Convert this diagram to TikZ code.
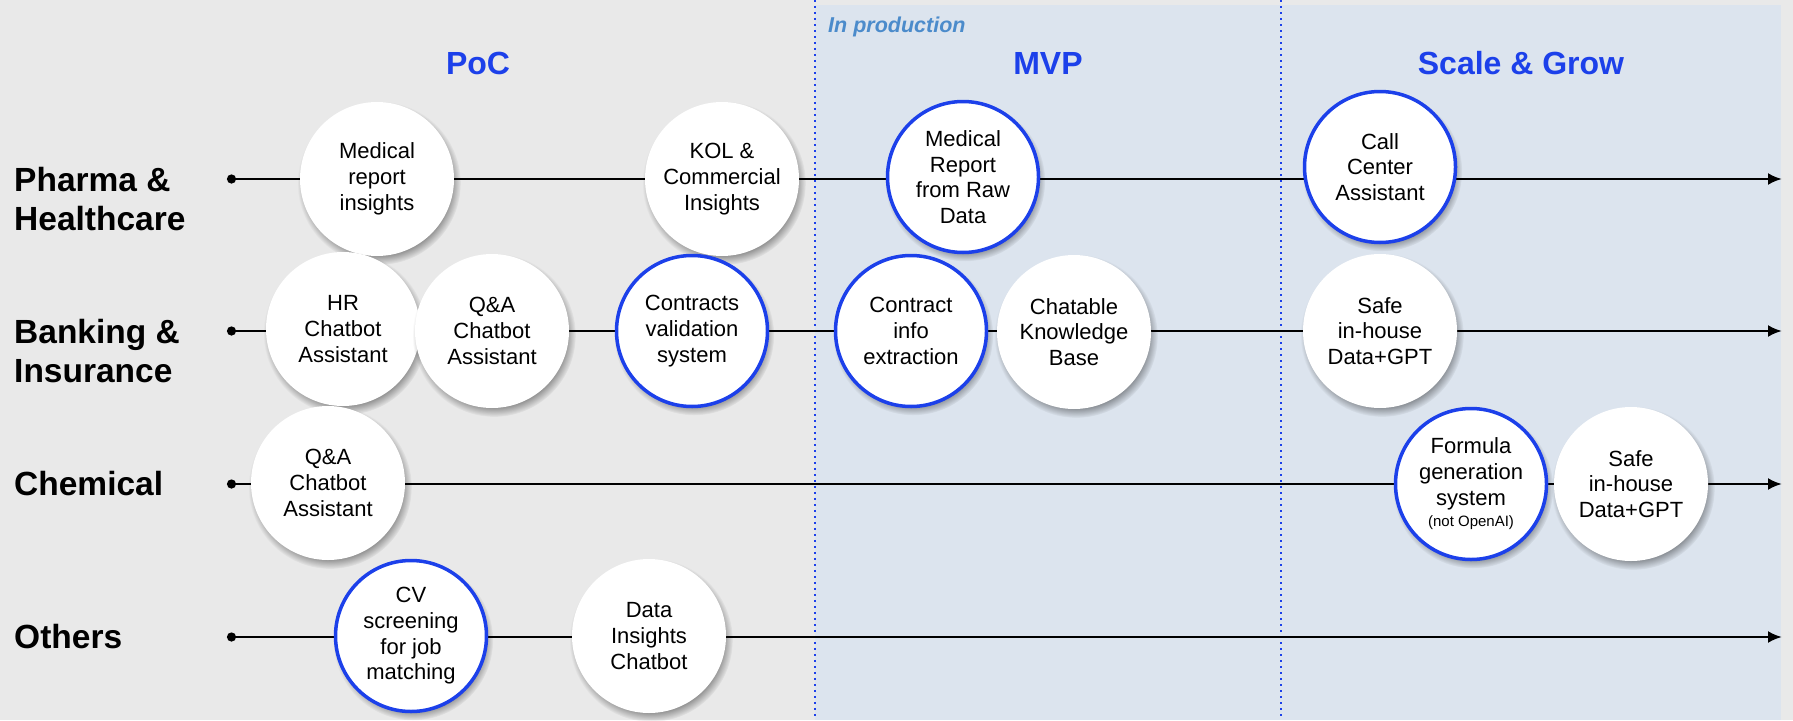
\documentclass[tikz,border=0pt]{standalone}
\usepackage{fontspec}
\setmainfont{Liberation Sans}
\usetikzlibrary{shadows,arrows.meta}
\definecolor{bggray}{HTML}{E9E9E9}
\definecolor{prodbg}{HTML}{DCE4EE}
\definecolor{vivid}{HTML}{1C40EA}
\definecolor{prodtxt}{HTML}{4B8BCB}
\begin{document}
\begin{tikzpicture}[x=1pt,y=-1pt,
  usecase/.style={circle, fill=white, minimum size=154pt, inner sep=0pt, align=center,
    font=\fontsize{22}{25.7}\selectfont,
    circular drop shadow={shadow xshift=2pt, shadow yshift=-4pt, shadow scale=1.06, opacity=0.45, fill=black}},
  live/.style={usecase, draw=vivid, line width=3.5pt, minimum size=151pt},
  phase/.style={font=\fontsize{32}{38}\selectfont\bfseries, text=vivid},
  rowlabel/.style={anchor=west, align=left, font=\fontsize{33.5}{39}\selectfont\bfseries, inner sep=0pt},
  rowline/.style={line width=2.6pt, {Circle[length=9pt]}-{Latex[length=14pt,width=12pt]}},
  divider/.style={vivid, line width=1.3pt, dash pattern=on 1.5pt off 4.5pt}
]
\useasboundingbox (0,0) rectangle (1793,720);
\fill[bggray] (0,0) rectangle (1793,720);
\fill[prodbg] (815,5) rectangle (1781,720);
\coordinate (d1t) at (815,0); \coordinate (d1b) at (815,720);
\coordinate (d2t) at (1281,0); \coordinate (d2b) at (1281,720);
\draw[divider] (d1t) -- (d1b);
\draw[divider] (d2t) -- (d2b);

\node[anchor=west, font=\fontsize{21.5}{24}\selectfont\bfseries\itshape, text=prodtxt, inner sep=0pt] (prod) at (828,27) {In production};
\node[phase] (poc) at (478,63) {PoC};
\node[phase] (mvp) at (1048,63) {MVP};
\node[phase] (scale) at (1521,63) {Scale \& Grow};

\node[rowlabel] (lab1) at (14,199) {Pharma \&\\Healthcare};
\node[rowlabel] (lab2) at (14,351) {Banking \&\\Insurance};
\node[rowlabel] (lab3) at (14,484) {Chemical};
\node[rowlabel] (lab4) at (14,637) {Others};

\coordinate (s1) at (227,179); \coordinate (e1) at (1782,179);
\coordinate (s2) at (227,331); \coordinate (e2) at (1782,331);
\coordinate (s3) at (227,484); \coordinate (e3) at (1782,484);
\coordinate (s4) at (227,637); \coordinate (e4) at (1782,637);
\draw[rowline] (s1) -- (e1);
\draw[rowline] (s2) -- (e2);
\draw[rowline] (s3) -- (e3);
\draw[rowline] (s4) -- (e4);

% Pharma & Healthcare
\node[usecase] (p1) at (377,179) {Medical\\report\\insights};
\node[usecase] (p2) at (722,179) {KOL \&\\Commercial\\Insights};
\node[live] (p3) at (963,177) {Medical\\Report\\from Raw\\Data};
\node[live] (p4) at (1380,167) {Call\\Center\\Assistant};
% Banking & Insurance
\node[usecase] (b1) at (343,329) {HR\\Chatbot\\Assistant};
\node[usecase] (b2) at (492,331) {Q\&A\\Chatbot\\Assistant};
\node[live] (b3) at (692,331) {Contracts\\validation\\system};
\node[live] (b4) at (911,331) {Contract\\info\\extraction};
\node[usecase] (b5) at (1074,332) {Chatable\\Knowledge\\Base};
\node[usecase] (b6) at (1380,331) {Safe\\in-house\\Data+GPT};
% Chemical
\node[usecase] (c1) at (328,483) {Q\&A\\Chatbot\\Assistant};
\node[live] (c2) at (1471,484) {Formula\\generation\\system\\[-4pt]{\fontsize{15}{17}\selectfont(not OpenAI)}};
\node[usecase] (c3) at (1631,484) {Safe\\in-house\\Data+GPT};
% Others
\node[live] (o1) at (411,636) {CV\\screening\\for job\\matching};
\node[usecase] (o2) at (649,636) {Data\\Insights\\Chatbot};
\end{tikzpicture}
\end{document}
